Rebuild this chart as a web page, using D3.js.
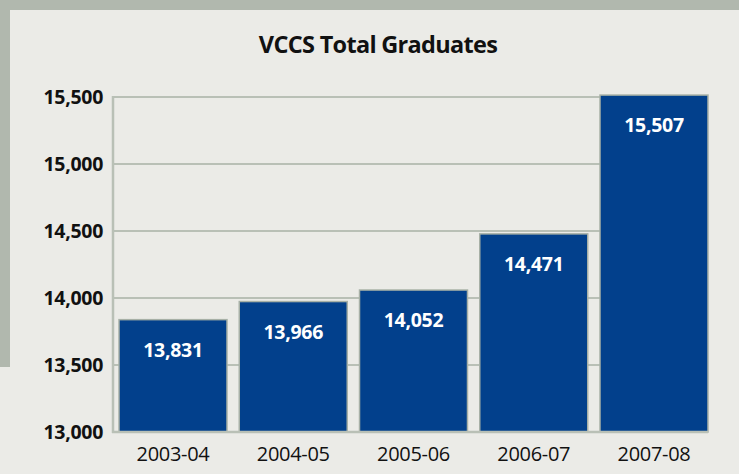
<!DOCTYPE html>
<html>
<head>
<meta charset="utf-8">
<script src="https://cdn.jsdelivr.net/npm/d3@7"></script>
<style>
  html, body { margin: 0; padding: 0; background: #ebebe7; }
  svg { display: block; }
</style>
</head>
<body>
<div id="chart"></div>
<script>
// data
var years = ['2003-04', '2004-05', '2005-06', '2006-07', '2007-08'];
var graduates = [13831, 13966, 14052, 14471, 15507];
var yTicks = [13000, 13500, 14000, 14500, 15000, 15500];
var chartTitle = 'VCCS Total Graduates';

(function(){
    var W = 739, H = 474;
    var gray = '#b1b8ae',
        panel = '#ebebe7',
        barFill = '#02408c',
        gridCol = '#b9c0b6';

    var svg = d3.select('#chart').append('svg')
        .attr('width', W)
        .attr('height', H);

    // backdrop: gray frame top + left strip
    svg.append('rect').attr('x',0).attr('y',0).attr('width',W).attr('height',H).attr('fill',panel);
    svg.append('rect').attr('x',0).attr('y',0).attr('width',W).attr('height',10).attr('fill',gray);
    svg.append('rect').attr('x',0).attr('y',0).attr('width',10).attr('height',367).attr('fill',gray);

    var left = 113, right = 708, top = 97, bottom = 432;

    var x = d3.scaleBand()
        .domain(years)
        .range([left, 714])
        .paddingInner(0.102)
        .paddingOuter(0.05);

    var y = d3.scaleLinear()
        .domain([13000, 15500])
        .range([bottom, top]);

    // title
    svg.append('text')
        .attr('x', 378)
        .attr('y', 53)
        .attr('text-anchor', 'middle')
        .attr('font-family', 'Open Sans, sans-serif')
        .attr('font-weight', 'bold')
        .attr('font-size', 23.5)
        .attr('letter-spacing', -0.7)
        .attr('fill', '#111')
        .text(chartTitle);

    // gridlines
    svg.append('g').selectAll('line')
        .data(yTicks)
        .enter().append('line')
        .attr('x1', left)
        .attr('x2', right)
        .attr('y1', function(d){ return y(d); })
        .attr('y2', function(d){ return y(d); })
        .attr('stroke', gridCol)
        .attr('stroke-width', 2);

    // left axis line
    svg.append('line')
        .attr('x1', left).attr('x2', left)
        .attr('y1', top - 1).attr('y2', bottom + 1)
        .attr('stroke', gridCol)
        .attr('stroke-width', 2.5);

    // y labels
    var fmt = d3.format(',');
    var yAxis = d3.axisLeft(y).tickValues(yTicks).tickFormat(fmt).tickSize(0).tickPadding(10);
    var gy = svg.append('g')
        .attr('transform', 'translate(' + left + ',0)')
        .call(yAxis);
    gy.select('.domain').remove();
    gy.selectAll('text')
        .attr('font-family', 'Open Sans, sans-serif')
        .attr('font-weight', 'bold')
        .attr('font-size', 19.5)
        .attr('letter-spacing', -0.3)
        .attr('fill', '#111');

    // bars
    var bars = svg.append('g');
    bars.selectAll('rect')
        .data(graduates)
        .enter().append('rect')
        .attr('x', function(d,i){ return x(years[i]); })
        .attr('y', function(d){ return y(d) - 1; })
        .attr('width', x.bandwidth())
        .attr('height', function(d){ return bottom - y(d) + 1; })
        .attr('fill', barFill)
        .attr('stroke', '#a7b0a6')
        .attr('stroke-width', 1.5);

    // bar value labels
    bars.selectAll('text')
        .data(graduates)
        .enter().append('text')
        .attr('x', function(d,i){ return x(years[i]) + x.bandwidth()/2; })
        .attr('y', function(d){ return y(d) + 36; })
        .attr('text-anchor', 'middle')
        .attr('font-family', 'Open Sans, sans-serif')
        .attr('font-weight', 'bold')
        .attr('font-size', 19.5)
        .attr('letter-spacing', -0.3)
        .attr('fill', '#fff')
        .text(function(d){ return fmt(d); });

    // x labels
    var xAxis = d3.axisBottom(x).tickSize(0).tickPadding(15);
    var gx = svg.append('g')
        .attr('transform', 'translate(0,' + bottom + ')')
        .call(xAxis);
    gx.select('.domain').remove();
    gx.selectAll('text')
        .attr('font-family', 'Open Sans, sans-serif')
        .attr('font-size', 20)
        .attr('letter-spacing', -0.3)
        .attr('fill', '#111');

    // bottom axis line on top
    svg.append('line')
        .attr('x1', left - 1).attr('x2', right)
        .attr('y1', bottom).attr('y2', bottom)
        .attr('stroke', gridCol)
        .attr('stroke-width', 2.5);
})();
</script>
</body>
</html>
